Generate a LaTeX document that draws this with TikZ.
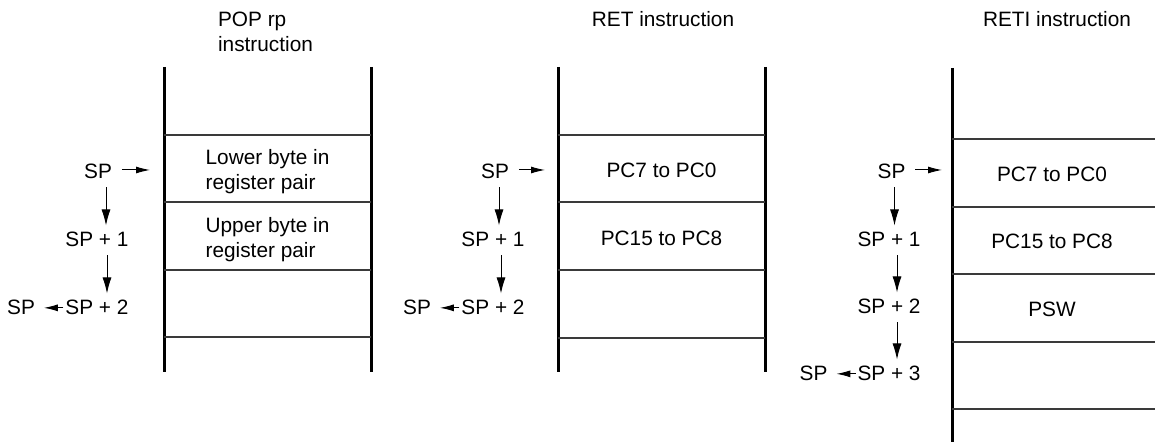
\documentclass[tikz,border=0pt]{standalone}
\usepackage{fontspec}
\setmainfont{Liberation Sans}
\usepackage{tikz}
\usetikzlibrary{
calc,
positioning,
arrows.meta
}
\definecolor{rule}{HTML}{3A3A3A}

\tikzset{
stackwall/.style={line width=1.5pt},
divider/.style={line width=0.6pt, rule},
label/.style={inner sep=0pt, outer sep=0pt, anchor=base, font=\fontsize{10.4}{12.5}\selectfont},
cell/.style={inner sep=0pt, outer sep=0pt, align=left, font=\fontsize{10.4}{12.5}\selectfont},
pushdown/.style={-{Latex[length=8pt,width=4.5pt]}, line width=0.5pt, shorten <=4pt, shorten >=3.5pt},
pointer/.style={-{Latex[length=7pt,width=3.5pt]}, line width=0.5pt}
}

\begin{document}
\begin{tikzpicture}[x=0.5pt,y=-0.5pt]

\useasboundingbox (0,0) rectangle (1155,442);

% POP rp
\node[cell] (title1) at (265.5,32) {POP rp\\instruction};
\draw[stackwall] (164,67) -- (164,372);
\draw[stackwall] (371,67) -- (371,372);
\draw[divider] (164,135) -- (371,135);
\draw[divider] (164,202) -- (371,202);
\draw[divider] (164,270) -- (371,270);
\draw[divider] (164,337) -- (371,337);
\node[cell] (low1) at (267.5,172) {Lower byte in\\register pair};
\node[cell] (up1) at (267.5,240) {Upper byte in\\register pair};

\node[label] (sp1a) at (98,179) {SP};
\node[label] (sp1b) at (97,247) {SP + 1};
\node[label] (sp1c) at (97,315) {SP + 2};
\node[label] (sp1d) at (21,315) {SP};
\coordinate (tip1) at (150,170);

\draw[pointer, shorten <=5pt] (sp1a.east |- tip1) -- (tip1);
\draw[pushdown] ([xshift=4]sp1a.south) -- ([xshift=4]sp1a.south |- sp1b.north);
\draw[pushdown] ([xshift=5]sp1b.south) -- ([xshift=5]sp1b.south |- sp1c.north);
\draw[pointer, shorten <=1pt, shorten >=4.5pt] (sp1c.west) -- (sp1d.east);

% RET
\node[label] (title2) at (663,27) {RET instruction};
\draw[stackwall] (558,67) -- (558,372);
\draw[stackwall] (765,67) -- (765,372);
\draw[divider] (558,135) -- (765,135);
\draw[divider] (558,202) -- (765,202);
\draw[divider] (558,270) -- (765,270);
\draw[divider] (558,338) -- (765,338);
\node[label] (pcl2) at (661.5,178) {PC7 to PC0};
\node[label] (pch2) at (661.5,246) {PC15 to PC8};

\node[label] (sp2a) at (495,179) {SP};
\node[label] (sp2b) at (493,247) {SP + 1};
\node[label] (sp2c) at (493,315) {SP + 2};
\node[label] (sp2d) at (417,315) {SP};
\coordinate (tip2) at (545,170);

\draw[pointer, shorten <=5pt] (sp2a.east |- tip2) -- (tip2);
\draw[pushdown] ([xshift=2]sp2a.south) -- ([xshift=2]sp2a.south |- sp2b.north);
\draw[pushdown] ([xshift=4]sp2b.south) -- ([xshift=4]sp2b.south |- sp2c.north);
\draw[pointer, shorten <=1pt, shorten >=4.5pt] (sp2c.west) -- (sp2d.east);

% RETI
\node[label] (title3) at (1057,27) {RETI instruction};
\draw[stackwall] (952,68) -- (952,442);
\draw[divider] (952,139) -- (1155,139);
\draw[divider] (952,207) -- (1155,207);
\draw[divider] (952,274) -- (1155,274);
\draw[divider] (952,342) -- (1155,342);
\draw[divider] (952,409) -- (1155,409);
\node[label] (pcl3) at (1052,182) {PC7 to PC0};
\node[label] (pch3) at (1052,249) {PC15 to PC8};
\node[label] (psw3) at (1052,317) {PSW};

\node[label] (sp3a) at (891.5,179) {SP};
\node[label] (sp3b) at (889,247) {SP + 1};
\node[label] (sp3c) at (889,314) {SP + 2};
\node[label] (sp3d) at (889,381) {SP + 3};
\node[label] (sp3e) at (813.5,381) {SP};
\coordinate (tip3) at (942,170);

\draw[pointer, shorten <=5pt] (sp3a.east |- tip3) -- (tip3);
\draw[pushdown] ([xshift=1.5]sp3a.south) -- ([xshift=1.5]sp3a.south |- sp3b.north);
\draw[pushdown] ([xshift=4]sp3b.south) -- ([xshift=4]sp3b.south |- sp3c.north);
\draw[pushdown] ([xshift=4]sp3c.south) -- ([xshift=4]sp3c.south |- sp3d.north);
\draw[pointer, shorten <=1pt, shorten >=4.5pt] (sp3d.west) -- (sp3e.east);

\end{tikzpicture}
\end{document}
